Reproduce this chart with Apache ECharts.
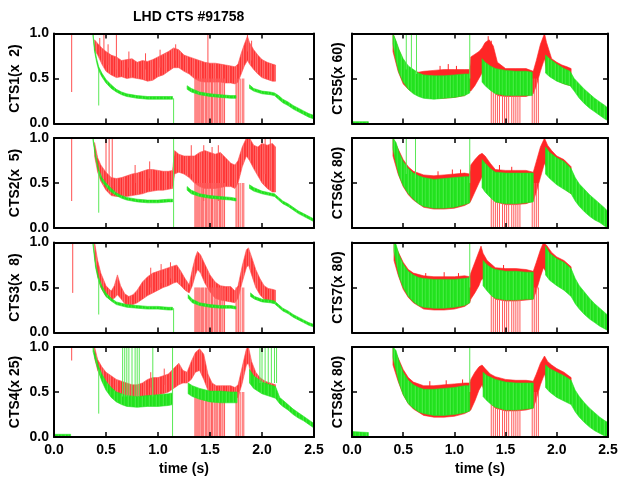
<!DOCTYPE html>
<html>
<head>
<meta charset="utf-8">
<script src="https://cdn.jsdelivr.net/npm/echarts@6/dist/echarts.min.js"></script>
<style>
  html, body { margin: 0; padding: 0; background: #fff; }
  #chart { width: 621px; height: 482px; }
</style>
</head>
<body>
<div id="chart"></div>
<script>
// channel names (y axis titles)
var channelNames = ['CTS1(x  2)', 'CTS2(x  5)', 'CTS3(x  8)', 'CTS4(x 25)',
                    'CTS5(x 60)', 'CTS6(x 80)', 'CTS7(x 80)', 'CTS8(x 80)'];
var xTicks = [0.0, 0.5, 1.0, 1.5, 2.0, 2.5];
var yTicks = [0.0, 0.5, 1.0];

// bands: segments of [time, low, high]
var red1 = [[[0.39,0.82,0.93],[0.42,0.76,0.89],[0.46,0.66,0.84],[0.50,0.58,0.80],[0.55,0.54,0.76],[0.60,0.51,0.74],
  [0.65,0.52,0.70],[0.70,0.50,0.71],[0.75,0.51,0.72],[0.80,0.50,0.68],[0.85,0.49,0.70],[0.90,0.47,0.69],[0.95,0.48,0.71],
  [1.00,0.52,0.74],[1.05,0.54,0.77],[1.10,0.58,0.80],[1.15,0.62,0.84],[1.20,0.62,0.82],[1.25,0.58,0.76],[1.30,0.55,0.74],
  [1.35,0.50,0.72],[1.40,0.47,0.70],[1.45,0.46,0.68],[1.50,0.46,0.67],[1.55,0.46,0.67],[1.60,0.46,0.66],[1.65,0.45,0.65],
  [1.70,0.45,0.64],[1.74,0.44,0.63],[1.77,0.46,0.66],[1.80,0.55,0.78],[1.83,0.64,0.88],[1.86,0.70,0.97],[1.88,0.66,0.90],
  [1.92,0.60,0.82],[1.96,0.55,0.76],[2.00,0.51,0.71],[2.05,0.49,0.68],[2.10,0.47,0.66],[2.13,0.47,0.65]]];
var green1 = [
  [[0.375,0.97,1.0],[0.39,0.80,0.84],[0.41,0.68,0.72],[0.43,0.59,0.63],[0.46,0.52,0.56],[0.50,0.45,0.49],[0.55,0.39,0.43],
   [0.60,0.35,0.38],[0.65,0.32,0.35],[0.70,0.30,0.33],[0.80,0.28,0.31],[0.90,0.27,0.30],[1.00,0.27,0.30],[1.10,0.27,0.30],[1.14,0.27,0.30]],
  [[1.28,0.38,0.42],[1.32,0.35,0.39],[1.40,0.32,0.35],[1.50,0.30,0.33],[1.60,0.29,0.32],[1.70,0.28,0.31],[1.75,0.28,0.31]],
  [[1.88,0.39,0.43],[1.92,0.36,0.39],[2.00,0.33,0.36],[2.08,0.32,0.35],[2.12,0.31,0.34],[2.16,0.27,0.31],[2.20,0.23,0.27],
   [2.25,0.20,0.24],[2.30,0.16,0.20],[2.35,0.13,0.17],[2.40,0.10,0.14],[2.45,0.07,0.11],[2.50,0.05,0.09]]];
var redSpikes1 = [[0.17,0.35,1.0],[0.44,0.75,0.95],[0.48,0.70,1.0],[0.52,0.65,0.88],[0.60,0.60,1.0],[0.72,0.62,0.80],
  [0.88,0.60,0.78],[1.02,0.62,0.82],[1.17,0.70,0.88],[1.48,0.50,1.0],[1.86,0.80,1.0],[1.90,0.70,0.92]];
var greenSpikes1 = [[0.43,0.20,0.60],[1.15,0.0,0.28]];

var red2 = [[[0.39,0.80,0.95],[0.42,0.62,0.78],[0.45,0.52,0.70],[0.50,0.42,0.62],[0.55,0.36,0.56],[0.60,0.35,0.55],
  [0.65,0.35,0.56],[0.70,0.35,0.58],[0.75,0.36,0.60],[0.80,0.37,0.61],[0.85,0.38,0.63],[0.90,0.40,0.65],[0.95,0.41,0.65],
  [1.00,0.42,0.64],[1.05,0.42,0.63],[1.10,0.43,0.63],[1.14,0.44,0.64],[1.16,0.60,0.86],[1.20,0.62,0.82],[1.25,0.60,0.80],
  [1.30,0.56,0.80],[1.35,0.50,0.80],[1.40,0.46,0.84],[1.45,0.44,0.86],[1.50,0.44,0.84],[1.55,0.44,0.82],[1.60,0.45,0.84],
  [1.65,0.46,0.78],[1.70,0.46,0.72],[1.74,0.44,0.70],[1.77,0.50,0.75],[1.81,0.68,0.90],[1.85,0.80,1.0],[1.88,0.75,1.0],
  [1.92,0.66,0.92],[1.96,0.58,0.90],[2.00,0.50,0.94],[2.05,0.44,0.92],[2.10,0.40,0.94],[2.13,0.40,0.90]]];
var green2 = [
  [[0.375,0.97,1.0],[0.40,0.78,0.82],[0.43,0.61,0.65],[0.46,0.52,0.56],[0.50,0.46,0.50],[0.55,0.40,0.44],[0.60,0.36,0.39],
   [0.65,0.33,0.36],[0.70,0.31,0.34],[0.80,0.29,0.32],[0.90,0.28,0.31],[1.00,0.28,0.31],[1.10,0.29,0.32],[1.14,0.29,0.32]],
  [[1.28,0.42,0.46],[1.32,0.38,0.42],[1.40,0.35,0.38],[1.50,0.33,0.36],[1.60,0.32,0.35],[1.70,0.31,0.34],[1.75,0.30,0.33]],
  [[1.88,0.44,0.48],[1.92,0.41,0.45],[2.00,0.38,0.41],[2.08,0.36,0.39],[2.12,0.35,0.38],[2.16,0.31,0.34],[2.20,0.27,0.30],
   [2.25,0.24,0.27],[2.30,0.20,0.23],[2.35,0.16,0.19],[2.40,0.13,0.16],[2.45,0.10,0.13],[2.50,0.07,0.10]]];
var redSpikes2 = [[0.17,0.30,1.0],[0.50,0.55,1.0],[0.53,0.50,1.0],[0.56,0.45,1.0],[0.78,0.50,0.70],[0.92,0.55,0.74],
  [1.32,0.60,0.92],[1.44,0.30,0.92],[1.52,0.20,0.90],[1.58,0.30,0.92],[2.03,0.60,1.0],[2.08,0.55,1.0]];
var greenSpikes2 = [[0.43,0.17,0.63],[1.15,0.0,1.0]];

var red3 = [[[0.39,0.85,1.0],[0.42,0.62,0.80],[0.45,0.50,0.66],[0.50,0.40,0.52],[0.55,0.36,0.46],[0.58,0.38,0.52],
  [0.61,0.42,0.64],[0.64,0.38,0.52],[0.68,0.32,0.43],[0.72,0.30,0.40],[0.76,0.31,0.42],[0.80,0.33,0.47],[0.85,0.37,0.56],
  [0.90,0.41,0.62],[0.95,0.44,0.66],[1.00,0.47,0.68],[1.05,0.50,0.70],[1.10,0.52,0.72],[1.15,0.55,0.74],[1.18,0.56,0.75],
  [1.22,0.52,0.68],[1.26,0.47,0.60],[1.30,0.44,0.53],[1.33,0.52,0.70],[1.36,0.64,0.84],[1.38,0.70,0.90],[1.41,0.66,0.86],
  [1.45,0.55,0.76],[1.50,0.45,0.64],[1.55,0.38,0.56],[1.60,0.36,0.52],[1.65,0.35,0.51],[1.70,0.34,0.51],[1.74,0.33,0.46],
  [1.77,0.38,0.52],[1.81,0.56,0.74],[1.85,0.72,0.92],[1.87,0.75,0.94],[1.90,0.64,0.84],[1.94,0.50,0.70],[1.98,0.42,0.60],
  [2.02,0.37,0.52],[2.06,0.35,0.49],[2.10,0.34,0.48],[2.13,0.34,0.47]]];
var green3 = [
  [[0.375,0.97,1.0],[0.40,0.72,0.76],[0.43,0.57,0.61],[0.46,0.48,0.52],[0.50,0.40,0.44],[0.55,0.35,0.38],[0.60,0.31,0.34],
   [0.70,0.28,0.31],[0.80,0.27,0.30],[0.90,0.26,0.29],[1.00,0.26,0.29],[1.10,0.25,0.28],[1.14,0.25,0.28]],
  [[1.29,0.38,0.42],[1.33,0.33,0.37],[1.40,0.30,0.33],[1.50,0.28,0.31],[1.60,0.27,0.30],[1.70,0.27,0.30],[1.75,0.26,0.29]],
  [[1.89,0.40,0.44],[1.93,0.37,0.40],[2.00,0.34,0.37],[2.08,0.33,0.36],[2.12,0.32,0.35],[2.16,0.28,0.31],[2.20,0.24,0.27],
   [2.25,0.21,0.24],[2.30,0.17,0.20],[2.35,0.14,0.17],[2.40,0.11,0.14],[2.45,0.08,0.11],[2.50,0.06,0.09]]];
var redSpikes3 = [[0.18,0.44,1.0],[0.93,0.50,0.72],[1.03,0.55,0.76],[1.12,0.60,0.78]];
var greenSpikes3 = [[0.43,0.20,0.60],[1.15,0.0,0.27]];

var red4 = [[[0.39,0.88,1.0],[0.42,0.74,0.86],[0.46,0.64,0.78],[0.50,0.58,0.72],[0.55,0.53,0.68],[0.60,0.48,0.64],
  [0.65,0.45,0.62],[0.70,0.44,0.60],[0.75,0.43,0.58],[0.80,0.43,0.58],[0.85,0.44,0.60],[0.90,0.45,0.64],[0.95,0.46,0.66],
  [1.00,0.47,0.66],[1.05,0.48,0.68],[1.10,0.50,0.70],[1.15,0.54,0.76],[1.20,0.58,0.82],[1.24,0.60,0.74],[1.28,0.60,0.72],
  [1.32,0.64,0.84],[1.36,0.72,0.94],[1.40,0.74,0.98],[1.44,0.64,0.92],[1.48,0.52,0.70],[1.52,0.47,0.60],[1.56,0.45,0.57],
  [1.60,0.45,0.57],[1.65,0.44,0.57],[1.70,0.44,0.57],[1.74,0.42,0.55],[1.77,0.44,0.58],[1.81,0.60,0.78],[1.85,0.80,0.98],
  [1.87,0.82,1.0],[1.90,0.66,0.84],[1.94,0.60,0.72],[1.98,0.56,0.66],[2.03,0.50,0.62],[2.08,0.46,0.60],[2.13,0.44,0.58]]];
var green4 = [
  [[0.0,0.0,0.03],[0.16,0.0,0.03]],
  [[0.375,0.95,1.0],[0.40,0.84,0.90],[0.43,0.72,0.78],[0.46,0.62,0.70],[0.50,0.52,0.62],[0.55,0.44,0.55],[0.60,0.39,0.50],
   [0.65,0.36,0.48],[0.70,0.34,0.46],[0.80,0.33,0.45],[0.90,0.34,0.46],[1.00,0.34,0.47],[1.10,0.35,0.48],[1.14,0.36,0.49]],
  [[1.29,0.48,0.60],[1.33,0.45,0.57],[1.40,0.42,0.54],[1.50,0.39,0.51],[1.60,0.38,0.51],[1.70,0.38,0.50],[1.76,0.38,0.50]],
  [[1.88,0.60,0.75],[1.92,0.54,0.68],[2.00,0.48,0.61],[2.08,0.45,0.58],[2.13,0.43,0.56],[2.17,0.37,0.44],[2.20,0.34,0.41],
   [2.25,0.30,0.36],[2.30,0.25,0.31],[2.35,0.21,0.27],[2.40,0.18,0.23],[2.45,0.14,0.19],[2.50,0.10,0.15]]];
var redSpikes4 = [[0.17,0.85,1.0],[0.93,0.55,0.72],[1.06,0.58,0.76]];
var greenSpikes4 = [[0.43,0.26,0.75],[0.66,0.45,1.0],[0.68,0.45,1.0],[0.70,0.45,1.0],[0.72,0.45,1.0],[0.75,0.45,1.0],
  [0.78,0.45,1.0],[0.80,0.45,1.0],[0.82,0.45,1.0],[0.95,0.45,1.0],[1.14,0.0,1.0],[1.98,0.6,1.0],[2.00,0.6,1.0],
  [2.03,0.6,1.0],[2.06,0.6,1.0],[2.09,0.6,1.0],[2.12,0.6,1.0],[2.14,0.6,1.0]];

var red5 = [[[0.40,0.80,1.0],[0.45,0.58,0.84],[0.50,0.44,0.70],[0.55,0.38,0.62],[0.60,0.34,0.58],[0.65,0.31,0.57],
  [0.70,0.29,0.58],[0.80,0.28,0.59],[0.90,0.28,0.60],[1.00,0.29,0.60],[1.10,0.31,0.60],[1.15,0.36,0.60],[1.16,0.36,0.74],
  [1.20,0.42,0.77],[1.24,0.50,0.80],[1.27,0.56,0.84],[1.30,0.52,0.90],[1.34,0.46,0.93],[1.38,0.36,0.86],[1.42,0.31,0.68],
  [1.50,0.30,0.61],[1.60,0.30,0.61],[1.70,0.30,0.61],[1.77,0.33,0.58],[1.80,0.42,0.70],[1.84,0.58,0.88],[1.88,0.72,1.0],
  [1.90,0.60,0.90],[1.95,0.52,0.72],[2.00,0.48,0.68],[2.05,0.45,0.65],[2.10,0.43,0.63],[2.14,0.42,0.61]]];
var green5 = [
  [[0.0,0.0,0.02],[0.16,0.0,0.02]],
  [[0.40,0.88,1.0],[0.43,0.70,0.92],[0.46,0.56,0.82],[0.50,0.46,0.72],[0.55,0.38,0.64],[0.60,0.33,0.60],[0.65,0.30,0.56],
   [0.70,0.28,0.54],[0.80,0.27,0.53],[0.90,0.28,0.53],[1.00,0.29,0.54],[1.10,0.31,0.55],[1.15,0.34,0.55]],
  [[1.27,0.46,0.72],[1.30,0.42,0.68],[1.35,0.37,0.64],[1.40,0.33,0.61],[1.50,0.31,0.59],[1.60,0.31,0.58],[1.70,0.31,0.58],[1.76,0.31,0.57]],
  [[1.89,0.56,0.76],[1.93,0.52,0.72],[2.00,0.47,0.66],[2.07,0.44,0.61],[2.13,0.42,0.58],[2.17,0.36,0.50],[2.22,0.28,0.44],
   [2.27,0.22,0.38],[2.32,0.17,0.33],[2.37,0.13,0.28],[2.42,0.09,0.24],[2.47,0.05,0.20],[2.50,0.03,0.17]]];
var redSpikes5 = [[0.86,0.55,0.64],[0.94,0.55,0.66],[1.02,0.55,0.64],[1.33,0.80,0.97],[1.36,0.75,0.92]];
var greenSpikes5 = [[0.53,0.60,1.0],[0.58,0.60,1.0],[0.63,0.55,1.0],[1.15,0.50,1.0]];

var red6 = [[[0.40,0.80,1.0],[0.45,0.60,0.88],[0.50,0.46,0.76],[0.55,0.37,0.68],[0.60,0.31,0.63],[0.70,0.23,0.59],
  [0.80,0.21,0.58],[0.90,0.21,0.59],[1.00,0.22,0.60],[1.10,0.25,0.61],[1.15,0.28,0.60],[1.16,0.30,0.70],[1.20,0.40,0.76],
  [1.24,0.50,0.81],[1.27,0.57,0.83],[1.30,0.50,0.80],[1.35,0.40,0.72],[1.40,0.29,0.65],[1.50,0.26,0.64],[1.60,0.26,0.64],
  [1.70,0.27,0.64],[1.77,0.30,0.62],[1.80,0.40,0.74],[1.84,0.56,0.90],[1.88,0.72,1.0],[1.91,0.64,0.92],[1.95,0.56,0.86],
  [2.00,0.50,0.80],[2.07,0.44,0.76],[2.14,0.38,0.68]]];
var green6 = [
  [[0.40,0.88,1.0],[0.43,0.72,0.95],[0.46,0.58,0.84],[0.50,0.47,0.74],[0.55,0.38,0.66],[0.60,0.32,0.61],[0.65,0.27,0.58],
   [0.70,0.24,0.56],[0.80,0.22,0.54],[0.90,0.22,0.55],[1.00,0.23,0.56],[1.10,0.26,0.57],[1.15,0.28,0.57]],
  [[1.27,0.45,0.76],[1.30,0.40,0.72],[1.35,0.34,0.66],[1.40,0.29,0.62],[1.50,0.27,0.61],[1.60,0.27,0.61],[1.70,0.28,0.61],[1.77,0.29,0.61]],
  [[1.89,0.60,0.90],[1.93,0.55,0.84],[2.00,0.48,0.78],[2.07,0.43,0.74],[2.14,0.38,0.66],[2.18,0.30,0.56],[2.22,0.24,0.49],
   [2.27,0.18,0.43],[2.32,0.13,0.37],[2.37,0.09,0.32],[2.42,0.06,0.27],[2.47,0.02,0.22],[2.50,0.0,0.18]]];
var redSpikes6 = [[0.84,0.54,0.63],[0.98,0.55,0.65],[1.06,0.56,0.65],[1.44,0.60,0.70],[1.56,0.60,0.68]];
var greenSpikes6 = [[0.53,0.60,1.0],[0.62,0.55,1.0],[1.15,0.50,1.0]];

var red7 = [[[0.41,0.80,1.0],[0.45,0.64,0.90],[0.50,0.48,0.78],[0.55,0.39,0.70],[0.60,0.33,0.66],[0.70,0.26,0.63],
  [0.80,0.25,0.62],[0.90,0.25,0.62],[1.00,0.26,0.62],[1.10,0.29,0.63],[1.15,0.33,0.62],[1.16,0.37,0.66],[1.20,0.44,0.78],
  [1.24,0.52,0.90],[1.26,0.58,0.96],[1.28,0.60,0.88],[1.32,0.50,0.80],[1.36,0.42,0.76],[1.40,0.37,0.72],[1.50,0.35,0.71],
  [1.60,0.35,0.71],[1.70,0.36,0.70],[1.77,0.37,0.68],[1.80,0.46,0.78],[1.84,0.62,0.92],[1.87,0.72,1.0],[1.90,0.66,0.97],
  [1.95,0.58,0.89],[2.00,0.53,0.84],[2.07,0.48,0.80],[2.14,0.41,0.73]]];
var green7 = [
  [[0.41,0.90,1.0],[0.43,0.78,0.98],[0.46,0.62,0.86],[0.50,0.50,0.76],[0.55,0.40,0.68],[0.60,0.34,0.64],[0.65,0.30,0.61],
   [0.70,0.28,0.60],[0.80,0.27,0.59],[0.90,0.27,0.59],[1.00,0.28,0.59],[1.10,0.30,0.60],[1.15,0.33,0.61]],
  [[1.28,0.52,0.80],[1.32,0.46,0.75],[1.36,0.41,0.72],[1.40,0.38,0.70],[1.50,0.36,0.68],[1.60,0.36,0.68],[1.70,0.37,0.67],[1.77,0.37,0.67]],
  [[1.89,0.64,0.96],[1.93,0.58,0.88],[2.00,0.52,0.82],[2.07,0.47,0.78],[2.14,0.40,0.71],[2.18,0.32,0.60],[2.22,0.26,0.52],
   [2.27,0.20,0.45],[2.32,0.15,0.38],[2.37,0.11,0.32],[2.42,0.07,0.27],[2.47,0.04,0.22],[2.50,0.02,0.19]]];
var redSpikes7 = [[0.72,0.58,0.66],[0.90,0.58,0.67],[1.04,0.58,0.66],[1.48,0.66,0.75]];
var greenSpikes7 = [[1.15,0.50,1.0]];

var red8 = [[[0.40,0.80,1.0],[0.45,0.62,0.88],[0.50,0.47,0.75],[0.55,0.37,0.66],[0.60,0.31,0.61],[0.70,0.24,0.57],
  [0.80,0.22,0.57],[0.90,0.22,0.58],[1.00,0.23,0.59],[1.10,0.26,0.60],[1.15,0.29,0.60],[1.16,0.30,0.64],[1.20,0.40,0.72],
  [1.24,0.52,0.78],[1.27,0.58,0.80],[1.30,0.48,0.76],[1.35,0.38,0.70],[1.40,0.32,0.67],[1.50,0.29,0.64],[1.60,0.29,0.63],
  [1.70,0.30,0.63],[1.77,0.32,0.62],[1.80,0.42,0.70],[1.84,0.58,0.82],[1.88,0.70,0.90],[1.91,0.56,0.84],[1.95,0.50,0.80],
  [2.00,0.45,0.76],[2.07,0.41,0.72],[2.14,0.37,0.66]]];
var green8 = [
  [[0.0,0.0,0.06],[0.16,0.0,0.05]],
  [[0.40,0.88,1.0],[0.43,0.74,0.96],[0.46,0.60,0.84],[0.50,0.47,0.72],[0.55,0.37,0.63],[0.60,0.32,0.58],[0.65,0.28,0.55],
   [0.70,0.26,0.53],[0.80,0.24,0.53],[0.90,0.24,0.54],[1.00,0.25,0.55],[1.10,0.27,0.57],[1.15,0.29,0.57]],
  [[1.28,0.45,0.72],[1.32,0.40,0.68],[1.36,0.36,0.66],[1.40,0.33,0.64],[1.50,0.30,0.61],[1.60,0.30,0.60],[1.70,0.31,0.60],[1.77,0.32,0.60]],
  [[1.89,0.55,0.80],[1.93,0.50,0.76],[2.00,0.44,0.72],[2.07,0.40,0.68],[2.14,0.36,0.63],[2.18,0.28,0.52],[2.22,0.22,0.45],
   [2.27,0.16,0.38],[2.32,0.11,0.32],[2.37,0.07,0.27],[2.42,0.04,0.22],[2.47,0.01,0.18],[2.50,0.0,0.16]]];
var redSpikes8 = [[0.76,0.54,0.62],[0.92,0.55,0.63],[1.08,0.57,0.64]];
var greenSpikes8 = [[1.15,0.50,1.0]];

// red dropouts to zero
var dropTimes = [1.36,1.38,1.40,1.42,1.44,1.47,1.49,1.51,1.53,1.56,1.58,1.60,1.62,1.64,1.76,1.78,1.80,1.82];
var dropTimesDense = [1.355,1.365,1.375,1.385,1.395,1.405,1.42,1.43,1.44,1.455,1.465,1.48,1.49,1.50,1.515,1.525,
  1.54,1.55,1.565,1.575,1.59,1.60,1.615,1.625,1.64,1.75,1.76,1.775,1.79,1.81,1.825];
var dropTop = 0.5;

var redBands = [red1, red2, red3, red4, red5, red6, red7, red8];
var greenBands = [green1, green2, green3, green4, green5, green6, green7, green8];
var redSpikes = [redSpikes1, redSpikes2, redSpikes3, redSpikes4, redSpikes5, redSpikes6, redSpikes7, redSpikes8];
var greenSpikes = [greenSpikes1, greenSpikes2, greenSpikes3, greenSpikes4, greenSpikes5, greenSpikes6, greenSpikes7, greenSpikes8];

var RED = '#ff2626';
var RED_LIGHT = '#ff5050';
var GREEN = '#22e41e';
var FONT = 'Liberation Sans, Arial, sans-serif';

//竖条纹理，模拟噪声
function stripes(colors) {
    var c = document.createElement('canvas');
    c.width = colors.length; c.height = 2;
    var ctx = c.getContext('2d');
    colors.forEach(function (col, k) { ctx.fillStyle = col; ctx.fillRect(k, 0, 1, 2); });
    return { image: c, repeat: 'repeat' };
}
var redNoise = stripes(['#ff3c3c', '#ff5c5c', '#ff3030', '#ff6868', '#ff4646', '#ff7070', '#ff3838']);
var greenNoise = stripes(['#22e41e', '#2ae626', '#46ea42', '#20dc1c', '#26e422', '#3ae836', '#24e020']);

var myChart = echarts.init(document.getElementById('chart'), null, { renderer: 'canvas' });

// panel placement
var colLeft = [54, 352], colWidth = [260, 256];
var rowTop = [33.5, 138, 242.5, 347], rowHeight = 90;

function bandSeries(segs, fill, stroke, gi) {
    return {
        type: 'custom', xAxisIndex: gi, yAxisIndex: gi, silent: true, z: 2,
        data: segs.map(function (s) { return [s[0][0], s[0][1]]; }),
        renderItem: function (params, api) {
            var seg = segs[params.dataIndex];
            var pts = [], j;
            for (j = 0; j < seg.length; j++) pts.push(api.coord([seg[j][0], seg[j][2]]));
            for (j = seg.length - 1; j >= 0; j--) pts.push(api.coord([seg[j][0], seg[j][1]]));
            return { type: 'polygon', shape: { points: pts }, style: { fill: fill, stroke: stroke, lineWidth: 0.6 } };
        }
    };
}

function spikeSeries(items, color, width, gi) {
    return {
        type: 'custom', xAxisIndex: gi, yAxisIndex: gi, silent: true, z: 2,
        data: items,
        encode: { x: 0, y: [1, 2] },
        renderItem: function (params, api) {
            var a = api.coord([api.value(0), api.value(1)]);
            var b = api.coord([api.value(0), api.value(2)]);
            return { type: 'line', shape: { x1: a[0], y1: a[1], x2: b[0], y2: b[1] }, style: { stroke: color, lineWidth: width } };
        }
    };
}

var grids = [], xAxes = [], yAxes = [], series = [];
var labelStyle = { color: '#000', fontFamily: FONT, fontWeight: 'bold', fontSize: 14 };

for (var i = 0; i < 8; i++) {
    var col = i < 4 ? 0 : 1, row = i % 4;
    grids.push({ left: colLeft[col], top: rowTop[row], width: colWidth[col], height: rowHeight });
}
// main axes (bottom / left)
for (i = 0; i < 8; i++) {
    var col = i < 4 ? 0 : 1, row = i % 4;
    xAxes.push({
        type: 'value', gridIndex: i, min: 0, max: 2.5, interval: 0.5, z: 5,
        axisLine: { show: true, onZero: false, lineStyle: { color: '#000', width: 2 } },
        axisTick: { show: true, inside: true, length: 5, lineStyle: { color: '#000', width: 1.5 } },
        axisLabel: Object.assign({ show: row === 3, margin: 6, formatter: function (v) { return v.toFixed(1); } }, labelStyle),
        splitLine: { show: false },
        name: row === 3 ? 'time (s)' : '', nameLocation: 'middle', nameGap: 25,
        nameTextStyle: labelStyle
    });
    yAxes.push({
        type: 'value', gridIndex: i, min: 0, max: 1, interval: 0.5, z: 5,
        axisLine: { show: true, onZero: false, lineStyle: { color: '#000', width: 2 } },
        axisTick: { show: true, inside: true, length: 5, lineStyle: { color: '#000', width: 1.5 } },
        axisLabel: Object.assign({ show: col === 0, margin: 5, formatter: function (v) { return v.toFixed(1); } }, labelStyle),
        splitLine: { show: false },
        name: channelNames[i], nameLocation: 'middle', nameGap: col === 0 ? 32 : 7,
        nameTextStyle: labelStyle
    });
}
// mirrored axes (top / right)
for (i = 0; i < 8; i++) {
    xAxes.push({
        type: 'value', gridIndex: i, position: 'top', min: 0, max: 2.5, interval: 0.5, z: 5,
        axisLine: { show: true, onZero: false, lineStyle: { color: '#000', width: 2 } },
        axisTick: { show: true, inside: true, length: 5, lineStyle: { color: '#000', width: 1.5 } },
        axisLabel: { show: false }, splitLine: { show: false }
    });
    yAxes.push({
        type: 'value', gridIndex: i, position: 'right', min: 0, max: 1, interval: 0.5, z: 5,
        axisLine: { show: true, onZero: false, lineStyle: { color: '#000', width: 2 } },
        axisTick: { show: true, inside: true, length: 5, lineStyle: { color: '#000', width: 1.5 } },
        axisLabel: { show: false }, splitLine: { show: false }
    });
}

for (i = 0; i < 8; i++) {
    var left = i < 4;
    series.push(bandSeries(redBands[i], left ? redNoise : RED, left ? RED_LIGHT : RED, i));
    series.push(spikeSeries(redSpikes[i], left ? RED_LIGHT : RED, 1, i));
    series.push(spikeSeries((left ? dropTimesDense : dropTimes).map(function (t) { return [t, 0, dropTop]; }),
        '#ff5a5a', 1, i));
    series.push(bandSeries(greenBands[i], greenNoise, GREEN, i));
    series.push(spikeSeries(greenSpikes[i], '#5ae856', 1, i));
}

myChart.setOption({
    animation: false,
    backgroundColor: '#fff',
    title: {
        text: 'LHD CTS #91758', left: 128, top: 5,
        textStyle: { color: '#000', fontFamily: FONT, fontWeight: 'bold', fontSize: 14 }
    },
    grid: grids,
    xAxis: xAxes,
    yAxis: yAxes,
    series: series
});
</script>
</body>
</html>
